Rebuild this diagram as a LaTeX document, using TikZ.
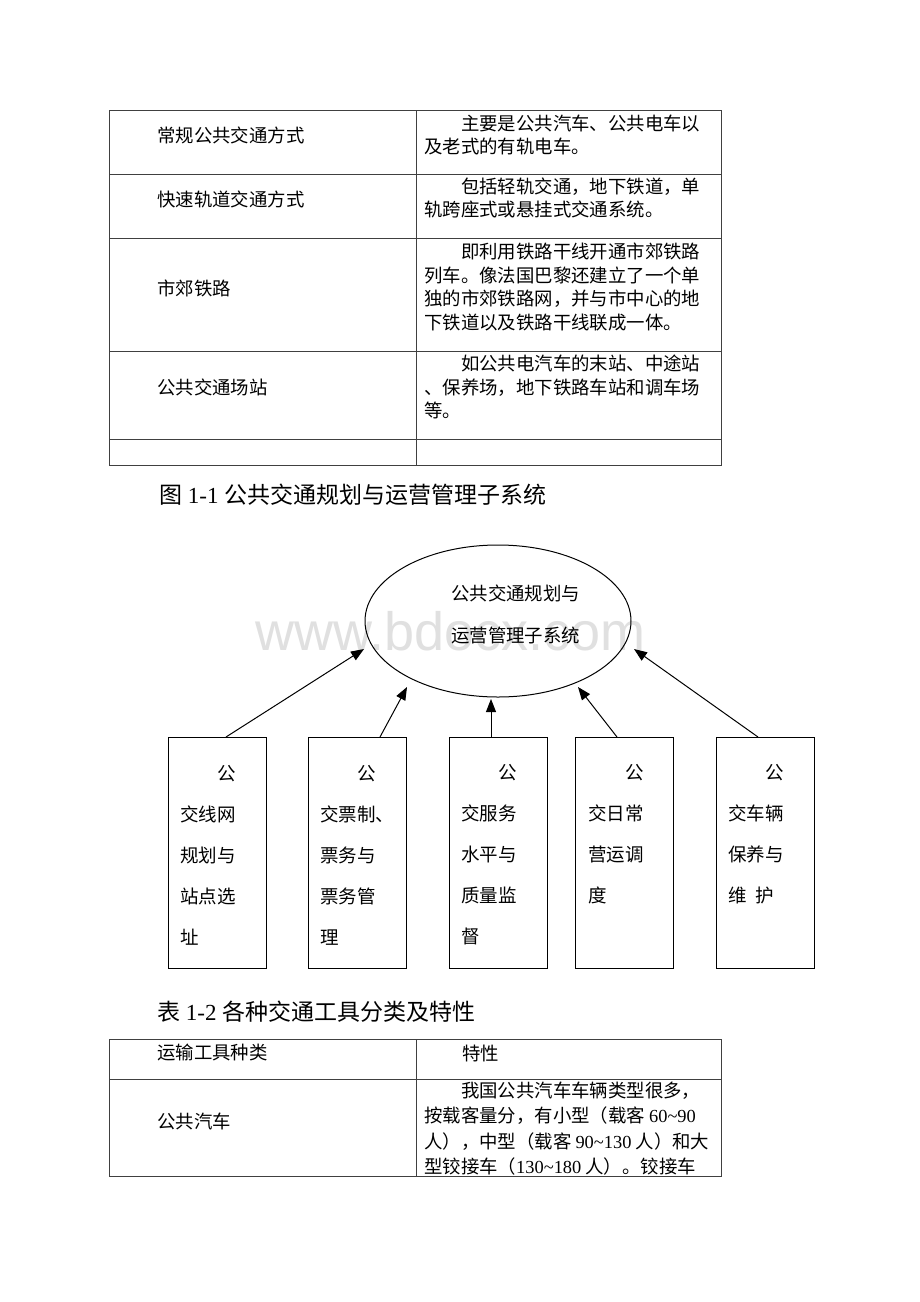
\documentclass[tikz,border=0pt]{standalone}
\usepackage{fontspec}
\setmainfont{Liberation Serif}
\newfontfamily\cjk{Noto Sans CJK SC}
\newfontfamily\wmark{Liberation Sans}
\usetikzlibrary{shapes,arrows.meta}
\newcommand{\feedtip}{Triangle[length=13pt,width=10pt]}
\tikzstyle{rule}=[black!75,line width=0.9pt]
\tikzstyle{cell}=[inner sep=0pt,anchor=west,align=left,font=\cjk\fontsize{18.4}{23.8}\selectfont]
\tikzstyle{cellb}=[cell,font=\cjk\fontsize{18.4}{25.5}\selectfont]
\tikzstyle{caption}=[inner sep=0pt,anchor=west,font=\fontsize{23}{27}\selectfont]
\tikzstyle{subsys}=[draw,line width=1.1pt,minimum width=98pt,minimum height=231pt,inner sep=0pt,anchor=north west]
\tikzstyle{subtext}=[inner sep=0pt,anchor=west,align=left,font=\cjk\fontsize{18.5}{41}\selectfont]
\tikzstyle{feed}=[-\feedtip,line width=1pt]

\begin{document}
\begin{tikzpicture}[x=1pt,y=-1pt]

  % Page (pixel grid of the scan, y going down)
  \useasboundingbox (0,0) rectangle (920,1302);
  \fill[white] (0,0) rectangle (920,1302);

  % Table above the figure
  \draw[rule] (109,110) rectangle (721,465);
  \foreach \y in {174,238,351,439}
    \draw[rule] (109,\y) -- (721,\y);
  \draw[rule] (416,110) -- (416,465);

  \node[cell] (modeA) at (157,135) {常规公共交通方式};
  \node[cell] (modeB) at (157,199) {快速轨道交通方式};
  \node[cell] (modeC) at (157,288) {市郊铁路};
  \node[cell] (modeD) at (157,387) {公共交通场站};

  \node[cell] (noteA) at (424,135) {\hspace*{2em}主要是公共汽车、公共电车以\\及老式的有轨电车。};
  \node[cell] (noteB) at (424,198) {\hspace*{2em}包括轻轨交通，地下铁道，单\\轨跨座式或悬挂式交通系统。};
  \node[cell] (noteC) at (424,287) {\hspace*{2em}即利用铁路干线开通市郊铁路\\列车。像法国巴黎还建立了一个单\\独的市郊铁路网，并与市中心的地\\下铁道以及铁路干线联成一体。};
  \node[cell] (noteD) at (424,387) {\hspace*{2em}如公共电汽车的末站、中途站\\、保养场，地下铁路车站和调车场\\等。};

  % Figure caption
  \node[caption] (figcap) at (159,495) {{\cjk 图} 1-1 {\cjk 公共交通规划与运营管理子系统}};

  % Watermark of the scan
  \node[anchor=base west,inner sep=0pt,font=\wmark\fontsize{54}{60}\selectfont,black!12] (wm) at (255,650) {www.bdocx.com};

  % Main system
  \node[draw,ellipse,line width=1pt,minimum width=266pt,minimum height=152pt] (sys) at (498,621) {};
  \node[subtext,font=\cjk\fontsize{18.4}{42}\selectfont] (sysText) at (451,614) {公共交通规划与\\运营管理子系统};

  % Sub systems
  \node[subsys] (b1) at (168,737) {};
  \node[subsys] (b2) at (308,737) {};
  \node[subsys] (b3) at (449,737) {};
  \node[subsys] (b4) at (575,737) {};
  \node[subsys] (b5) at (716,737) {};

  \node[subtext] (t1) at (180,855) {\hspace*{2em}公\\交线网\\规划与\\站点选\\址};
  \node[subtext] (t2) at (320,855) {\hspace*{2em}公\\交票制、\\票务与\\票务管\\理};
  \node[subtext] (t3) at (461,855) {\hspace*{2em}公\\交服务\\水平与\\质量监\\督};
  \node[subtext] (t4) at (588,834.5) {\hspace*{2em}公\\交日常\\营运调\\度};
  \node[subtext] (t5) at (728,834.5) {\hspace*{2em}公\\交车辆\\保养与\\维\hspace{0.5em}护};

  % Arrows
  \coordinate (in1) at (364,649);
  \coordinate (in2) at (407,687);
  \coordinate (in3) at (491,699);
  \coordinate (in4) at (578,687);
  \coordinate (in5) at (634,649);
  \draw[feed] ([xshift=58pt]b1.north west) -- (in1);
  \draw[feed] ([xshift=72pt]b2.north west) -- (in2);
  \draw[feed] ([xshift=42pt]b3.north west) -- (in3);
  \draw[feed] ([xshift=42pt]b4.north west) -- (in4);
  \draw[feed] ([xshift=42pt]b5.north west) -- (in5);

  % Table caption
  \node[caption] (tabcap) at (157,1012) {{\cjk 表} 1-2 {\cjk 各种交通工具分类及特性}};

  % Table below the figure
  \draw[rule] (109,1039) rectangle (721,1176);
  \draw[rule] (109,1079) -- (721,1079);
  \draw[rule] (416,1039) -- (416,1176);

  \node[cellb] (headL) at (157,1053) {运输工具种类};
  \node[cellb] (headR) at (462,1053) {特性};
  \node[cellb] (bus) at (157,1121) {公共汽车};
  \node[cellb] (busNote) at (424,1128.5) {\hspace*{2em}我国公共汽车车辆类型很多，\\按载客量分，有小型（载客 {\rmfamily 60\textasciitilde 90}\\人），中型（载客 {\rmfamily 90\textasciitilde 130} 人）和大\\型铰接车（{\rmfamily 130\textasciitilde 180} 人）。铰接车};

\end{tikzpicture}
\end{document}
